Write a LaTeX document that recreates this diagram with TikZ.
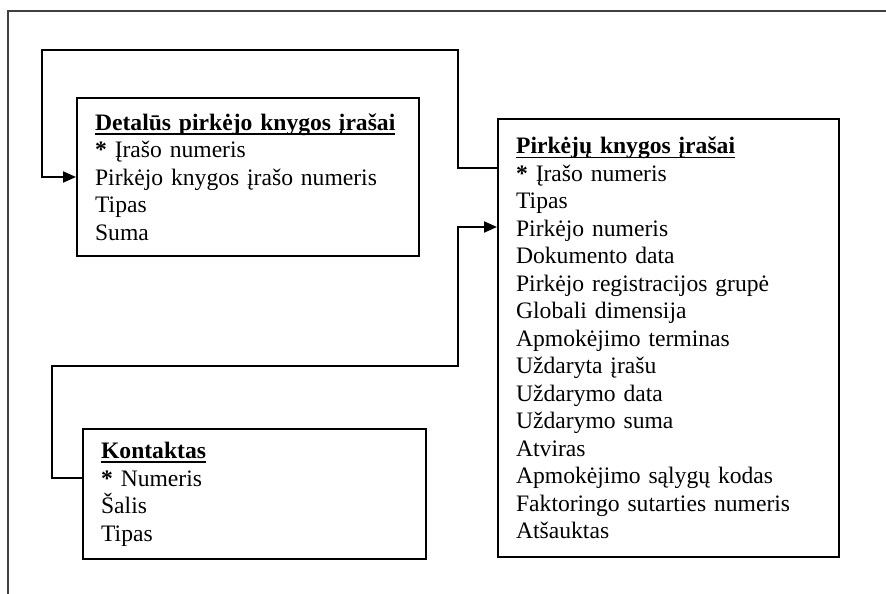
\documentclass[tikz,border=0pt]{standalone}
\usepackage{fontspec}
\setmainfont{Liberation Serif}
\usetikzlibrary{arrows.meta}
\newcommand\myul[1]{\setbox0\hbox{#1}\rlap{\rule[-4.5pt]{\wd0}{1.6pt}}\box0}
\tikzset{
  entity/.style={draw, line width=2.2pt, rectangle, align=left, anchor=north west,
    inner xsep=18pt, inner ysep=3pt, font=\fontsize{23.6}{27.5}\selectfont},
  conn/.style={line width=2pt},
  tip/.style={-{Triangle[length=13pt,width=11pt]}},
  frame/.style={line width=1.2pt, draw=black!75}
}
\begin{document}
\begin{tikzpicture}[x=1pt,y=-1pt]
\useasboundingbox (0,0) rectangle (886,594);
\draw[frame] (886,11) -- (8,11) -- (8,594);
\node[entity, minimum width=342pt, minimum height=158pt, text width=306pt] (dp) at (76,97)
 {\myul{\textbf{Detalūs pirkėjo knygos įrašai}}\\
  \textbf{*} Įrašo numeris\\
  Pirkėjo knygos įrašo numeris\\
  Tipas\\
  Suma};
\node[entity, minimum width=341pt, minimum height=438pt, text width=305pt] (pk) at (497,118)
 {\myul{\textbf{Pirkėjų knygos įrašai}}\\
  \textbf{*} Įrašo numeris\\
  Tipas\\
  Pirkėjo numeris\\
  Dokumento data\\
  Pirkėjo registracijos grupė\\
  Globali dimensija\\
  Apmokėjimo terminas\\
  Uždaryta įrašu\\
  Uždarymo data\\
  Uždarymo suma\\
  Atviras\\
  Apmokėjimo sąlygų kodas\\
  Faktoringo sutarties numeris\\
  Atšauktas};
\node[entity, minimum width=343pt, minimum height=130pt, text width=307pt] (kt) at (82,428)
 {\myul{\textbf{Kontaktas}}\\
  \textbf{*} Numeris\\
  Šalis\\
  Tipas};
\draw[conn, tip] ([yshift=-50pt]pk.north west) -| (458,50) -| (42,177) -- ([yshift=-80pt]dp.north west);
\draw[conn, tip] ([yshift=-50pt]kt.north west) -| (52,366) -| (458,227) -- ([yshift=-109pt]pk.north west);
\end{tikzpicture}
\end{document}
